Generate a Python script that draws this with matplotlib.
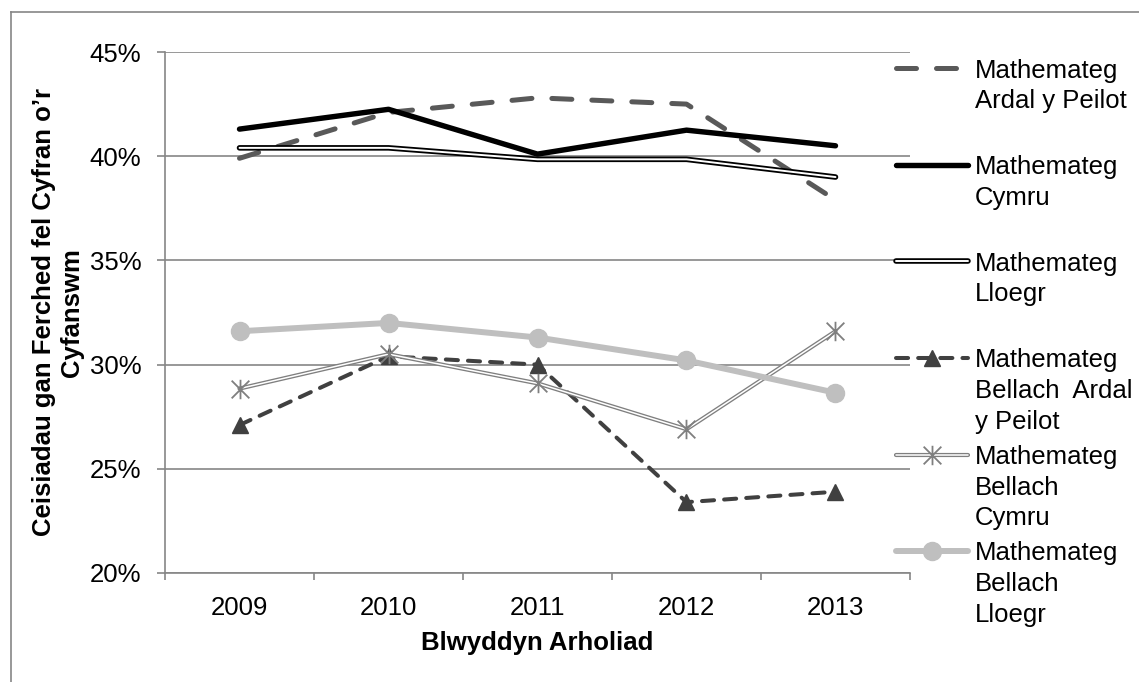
import matplotlib
matplotlib.use("Agg")
import matplotlib.pyplot as plt
import matplotlib.patheffects as pe
from matplotlib.path import Path
from matplotlib.lines import Line2D

plt.rcParams['font.family'] = ['Liberation Sans', 'DejaVu Sans']

# data (percent of entries by girls)
years = ['2009', '2010', '2011', '2012', '2013']
maths_pilot = [39.9, 42.1, 42.8, 42.5, 37.9]
maths_wales = [41.3, 42.25, 40.1, 41.25, 40.5]
maths_england = [40.4, 40.4, 39.85, 39.85, 39.0]
fm_pilot = [27.1, 30.4, 30.0, 23.4, 23.9]
fm_wales = [28.85, 30.5, 29.1, 26.9, 31.6]
fm_england = [31.6, 32.0, 31.3, 30.2, 28.65]

labels = ['Mathemateg\nArdal y Peilot',
          'Mathemateg\nCymru',
          'Mathemateg\nLloegr',
          'Mathemateg\nBellach  Ardal\ny Peilot',
          'Mathemateg\nBellach\nCymru',
          'Mathemateg\nBellach\nLloegr']
yticks = [20, 25, 30, 35, 40, 45]

grid_col = '#868686'
fs = 18.5

# asterisk marker: X plus vertical bar
asterisk = Path([(-1, -1), (1, 1), (-1, 1), (1, -1), (0, -1.1), (0, 1.1)],
                [Path.MOVETO, Path.LINETO, Path.MOVETO, Path.LINETO,
                 Path.MOVETO, Path.LINETO])
star_kw = dict(ls='none', marker=asterisk, ms=14, mec='#7f7f7f', mew=1.3)

fig = plt.figure(figsize=(11.39, 6.82), dpi=100)
ax = fig.add_axes([165 / 1139, 1 - 573 / 682, 745 / 1139, 521 / 682])

x = list(range(len(years)))

styles = [
    dict(color='#595959', lw=3.6, ls=(0, (4, 4)), dash_capstyle='round'),
    dict(color='black', lw=3.9, solid_capstyle='round'),
    dict(color='white', lw=1.4, solid_capstyle='round',
         path_effects=[pe.Stroke(linewidth=4.0, foreground='black', capstyle='round'), pe.Normal()]),
    dict(color='#404040', lw=2.9, ls=(0, (3, 2.5)), dash_capstyle='round',
         marker='^', ms=11, mec='#404040', mfc='#404040'),
    dict(color='white', lw=1.1, solid_capstyle='round',
         path_effects=[pe.Stroke(linewidth=3.0, foreground='#7f7f7f', capstyle='round'), pe.Normal()]),
    dict(color='#bfbfbf', lw=4.3, solid_capstyle='round',
         marker='o', ms=13, mec='#bfbfbf', mfc='#bfbfbf'),
]
series = [maths_pilot, maths_wales, maths_england, fm_pilot, fm_wales, fm_england]

for vals, st in zip(series, styles):
    ax.plot(x, vals, **st)
    if vals is fm_wales:
        ax.plot(x, vals, **star_kw)

# manual legend on the right, first line aligned with the sample
for i, (lab, st) in enumerate(zip(labels, styles)):
    yy = 0.969 - i * 0.1854
    ln = Line2D([0.981, 1.078], [yy, yy], transform=ax.transAxes, clip_on=False, **st)
    ln.set_markevery([])
    ax.add_line(ln)
    if 'marker' in st:
        ax.plot([1.0295], [yy], transform=ax.transAxes, clip_on=False, ls='none',
                marker=st['marker'], ms=st['ms'], mec=st['mec'], mfc=st['mfc'])
    if i == 4:
        ax.plot([1.0295], [yy], transform=ax.transAxes, clip_on=False, **star_kw)
    ax.text(1.087, yy + 0.0185, lab, transform=ax.transAxes, fontsize=fs,
            va='top', ha='left', linespacing=1.35)

ax.set_xlim(-0.5, 4.5)
ax.set_ylim(20, 45)
ax.set_xticks(x)
ax.set_xticklabels(years)
ax.set_xticks([v - 0.5 for v in range(6)], minor=True)
ax.tick_params(axis='x', which='major', length=0, pad=16.5, labelsize=fs)
ax.tick_params(axis='x', which='minor', length=5, width=1.2, color=grid_col, direction='out')
ax.set_yticks(yticks)
ax.set_yticklabels([f'{v}%' for v in yticks])
ax.tick_params(axis='y', length=5.5, width=1.2, color=grid_col, pad=11.5, labelsize=fs)
ax.yaxis.grid(True, color=grid_col, lw=1.2)
ax.set_axisbelow(True)
for s in ['top', 'right']:
    ax.spines[s].set_visible(False)
for s in ['left', 'bottom']:
    ax.spines[s].set_color(grid_col)
    ax.spines[s].set_linewidth(1.2)

ax.set_xlabel('Blwyddyn Arholiad', fontsize=fs, fontweight='bold', va='center')
ax.xaxis.set_label_coords(0.5, -0.134)
ax.set_ylabel('Ceisiadau gan Ferched fel Cyfran o’r\nCyfanswm', fontsize=fs,
              fontweight='bold', va='center', ha='center')
ax.yaxis.set_label_coords(-0.1436, 0.5)

# outer chart border (cropped on the right and bottom)
fig.add_artist(Line2D([11 / 1139, 11 / 1139], [0, 1 - 12 / 682], color=grid_col, lw=1.2))
fig.add_artist(Line2D([11 / 1139, 1], [1 - 12 / 682, 1 - 12 / 682], color=grid_col, lw=1.2))

fig.savefig('out.png', dpi=100)
